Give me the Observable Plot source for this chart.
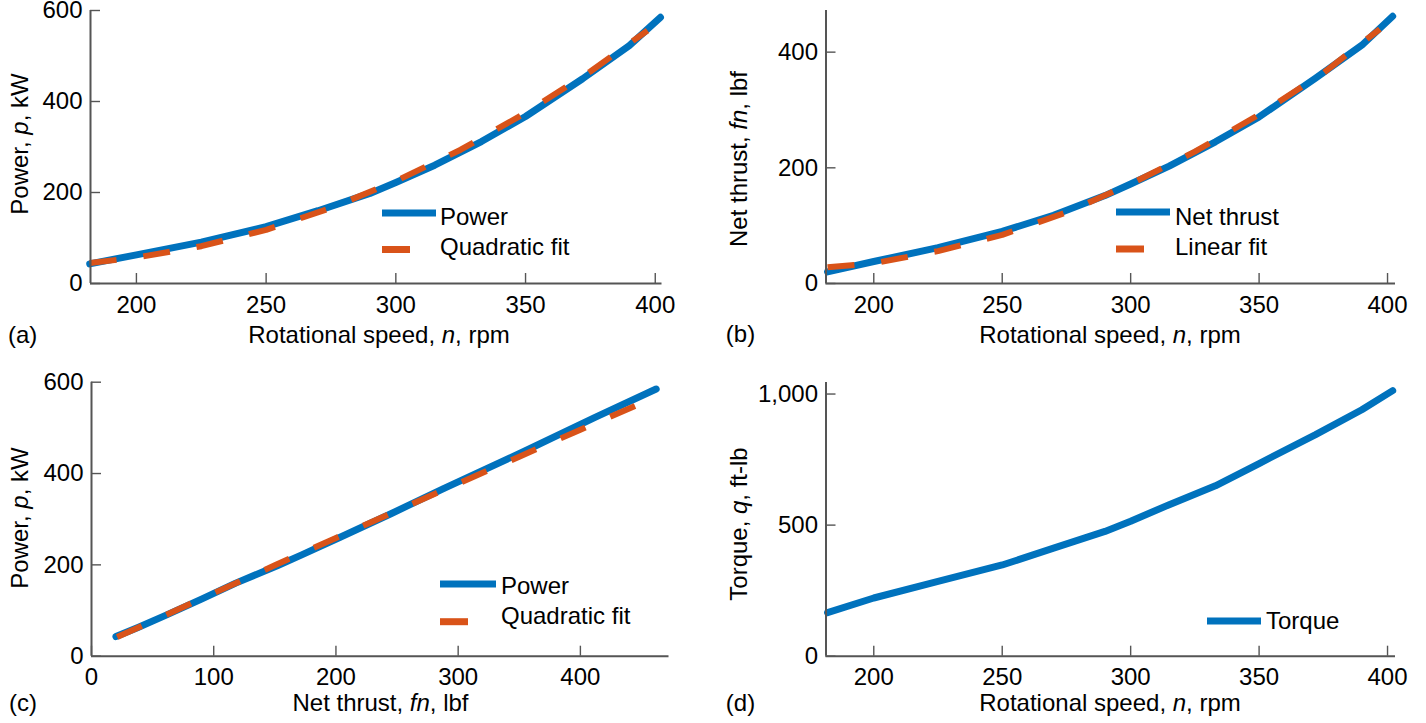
<!DOCTYPE html>
<html>
<head>
<meta charset="utf-8">
<script src="https://cdn.jsdelivr.net/npm/d3@7"></script>
<script src="https://cdn.jsdelivr.net/npm/@observablehq/plot@0.6"></script>
<style>
  body { margin: 0; background: #fff; }
  #wrap { position: relative; width: 1426px; height: 723px; overflow: hidden; background: #fff; }
  #wrap svg { position: absolute; overflow: visible; }
</style>
</head>
<body>
<div id="wrap"></div>
<script>
// ---------- data ----------
const speedRpm   = [182, 200, 225, 250, 270, 290, 300, 315, 333, 350, 372, 390, 402];
const powerKw    = [43, 63, 91, 125, 160, 198, 222, 260, 312, 367, 450, 523, 585];
const thrustLbf  = [20, 38, 62, 90, 118, 152, 172, 203, 245, 288, 355, 412, 462];
const torqueFtLb = [166, 222, 285, 348, 412, 476, 515, 578, 650, 735, 845, 940, 1013];

// (a) quadratic fit of power vs speed
const fitASpeed = [182, 200, 225, 250, 275, 300, 325, 350, 375, 397];
const fitAPower = [45, 57, 82, 118, 166, 225, 294, 375, 466, 556];
// (b) "linear" fit of thrust vs speed
const fitBSpeed  = [182, 200, 225, 250, 275, 300, 325, 350, 375, 397];
const fitBThrust = [28, 35, 56, 84, 123, 172, 228, 292, 364, 440];
// (c) quadratic fit of power vs thrust
const fitCThrust = [21, 60, 100, 150, 200, 250, 300, 350, 400, 458];
const fitCPower  = [42, 89, 138, 199, 259, 319, 378, 437, 496, 563];

// tick values
const speedTicks = [200, 250, 300, 350, 400];
const thrustTicks = [0, 100, 200, 300, 400];
const powerTicks = [0, 200, 400, 600];
const thrustYTicks = [0, 200, 400];
const torqueTicks = [0, 500, 1000];

// ---------- style ----------
const FONT = '"Liberation Sans", Arial, Helvetica, sans-serif';
const BLUE = "#0072BD", ORANGE = "#D95319", AXIS = "#555555";
const FS = 24;

const rows = (xs, ys) => xs.map((x, i) => ({x, y: ys[i]}));
const solid = (xs, ys) => Plot.line(rows(xs, ys), {x: "x", y: "y", stroke: BLUE, strokeWidth: 7, strokeLinecap: "round", strokeLinejoin: "round"});
const dashed = (xs, ys) => Plot.line(rows(xs, ys), {x: "x", y: "y", stroke: ORANGE, strokeWidth: 6, strokeDasharray: "27,27", strokeLinecap: "butt", strokeLinejoin: "round"});

function richText(sel, label) {
  label.split("*").forEach((part, i) => {
    if (!part) return;
    const t = sel.append("tspan").text(part);
    if (i % 2 === 1) t.attr("font-style", "italic");
  });
}

function panel(cfg) {
  const [mt, mr, mb, ml] = cfg.margin;
  const pw = cfg.width - ml - mr, ph = cfg.height - mt - mb;
  const svg = Plot.plot({
    width: cfg.width, height: cfg.height,
    marginTop: mt, marginRight: mr, marginBottom: mb, marginLeft: ml,
    style: {fontFamily: FONT, fontSize: FS + "px", color: "black", background: "transparent", overflow: "visible"},
    x: {domain: cfg.xDomain},
    y: {domain: cfg.yDomain},
    marks: [
      Plot.ruleX(cfg.xTicks, {stroke: AXIS, strokeWidth: 1.4, insetTop: ph - 10}),
      Plot.ruleY(cfg.yTicks, {stroke: AXIS, strokeWidth: 1.4, insetRight: pw - 10}),
      ...cfg.lines,
      Plot.ruleY([cfg.yDomain[0]], {stroke: AXIS, strokeWidth: 2}),
      Plot.ruleX([cfg.xDomain[0]], {stroke: AXIS, strokeWidth: 2}),
      Plot.axisX({ticks: cfg.xTicks, tickSize: 0, tickPadding: 12, label: null, fontSize: FS, tickFormat: d3.format("d")}),
      Plot.axisY({ticks: cfg.yTicks, tickSize: 0, tickPadding: 8, label: null, fontSize: FS, tickFormat: cfg.yFormat || d3.format("d")})
    ]
  });
  svg.style.left = cfg.left + "px";
  svg.style.top = cfg.top + "px";
  const s = d3.select(svg);
  const g = s.append("g").attr("font-family", FONT).attr("font-size", FS).attr("fill", "black").attr("text-anchor", "start");
  // x label
  richText(g.append("text").attr("x", cfg.xLabelAt[0]).attr("y", cfg.xLabelAt[1]).attr("text-anchor", "middle"), cfg.xLabel);
  // y label (rotated)
  richText(g.append("text").attr("text-anchor", "middle")
    .attr("transform", `translate(${cfg.yLabelAt[0]},${cfg.yLabelAt[1]}) rotate(-90)`), cfg.yLabel);
  // panel tag
  g.append("text").attr("x", cfg.tagAt[0]).attr("y", cfg.tagAt[1]).attr("text-anchor", "start").text(cfg.tag);
  // legend
  const lg = g.append("g");
  cfg.legend.forEach(item => {
    lg.append("line").attr("x1", item.x1).attr("x2", item.x2).attr("y1", item.ly).attr("y2", item.ly)
      .attr("stroke", item.color).attr("stroke-width", 7)
      .attr("stroke-dasharray", item.dash ? "28,40" : null);
    lg.append("text").attr("x", item.tx).attr("y", item.ty).attr("text-anchor", "start").text(item.label);
  });
  document.getElementById("wrap").appendChild(svg);
}

// (a)
panel({
  left: 0, top: 0, width: 700, height: 360, margin: [10, 38.5, 77, 90],
  xDomain: [182.3, 402.6], yDomain: [0, 600], xTicks: speedTicks, yTicks: powerTicks,
  lines: [solid(speedRpm, powerKw), dashed(fitASpeed, fitAPower)],
  xLabel: "Rotational speed, *n*, rpm", xLabelAt: [379, 343],
  yLabel: "Power, *p*, kW", yLabelAt: [28, 144],
  tag: "(a)", tagAt: [8, 343],
  legend: [
    {label: "Power", color: BLUE, x1: 382, x2: 436, ly: 213, tx: 440, ty: 225},
    {label: "Quadratic fit", color: ORANGE, dash: true, x1: 382, x2: 436, ly: 249.5, tx: 440, ty: 255}
  ]
});

// (b)
panel({
  left: 700, top: 0, width: 726, height: 360, margin: [10, 31, 77, 125.5],
  xDomain: [181.4, 403.1], yDomain: [0, 472], xTicks: speedTicks, yTicks: thrustYTicks,
  lines: [solid(speedRpm, thrustLbf), dashed(fitBSpeed, fitBThrust)],
  xLabel: "Rotational speed, *n*, rpm", xLabelAt: [410, 343],
  yLabel: "Net thrust, *fn*, lbf", yLabelAt: [47, 159],
  tag: "(b)", tagAt: [25.8, 342],
  legend: [
    {label: "Net thrust", color: BLUE, x1: 416, x2: 470, ly: 212, tx: 475, ty: 225},
    {label: "Linear fit", color: ORANGE, dash: true, x1: 416, x2: 470, ly: 249, tx: 475, ty: 255}
  ]
});

// (c)
panel({
  left: 0, top: 360, width: 700, height: 363, margin: [21.7, 31.5, 67.3, 91],
  xDomain: [0, 472.5], yDomain: [0, 600], xTicks: thrustTicks, yTicks: powerTicks,
  lines: [solid(thrustLbf, powerKw), dashed(fitCThrust, fitCPower)],
  xLabel: "Net thrust, *fn*, lbf", xLabelAt: [380.5, 351],
  yLabel: "Power, *p*, kW", yLabelAt: [28, 158],
  tag: "(c)", tagAt: [9, 351],
  legend: [
    {label: "Power", color: BLUE, x1: 440, x2: 496, ly: 224, tx: 501, ty: 234},
    {label: "Quadratic fit", color: ORANGE, dash: true, x1: 440, x2: 496, ly: 261.7, tx: 501, ty: 264}
  ]
});

// (d)
panel({
  left: 700, top: 360, width: 726, height: 363, margin: [22, 31, 67.3, 125.5],
  xDomain: [181.4, 403.1], yDomain: [0, 1044], xTicks: speedTicks, yTicks: torqueTicks,
  yFormat: d3.format(","),
  lines: [solid(speedRpm, torqueFtLb)],
  xLabel: "Rotational speed, *n*, rpm", xLabelAt: [410, 351],
  yLabel: "Torque, *q*, ft-lb", yLabelAt: [47, 164],
  tag: "(d)", tagAt: [25.8, 351],
  legend: [
    {label: "Torque", color: BLUE, x1: 507, x2: 561, ly: 261, tx: 566, ty: 269}
  ]
});
</script>
</body>
</html>
